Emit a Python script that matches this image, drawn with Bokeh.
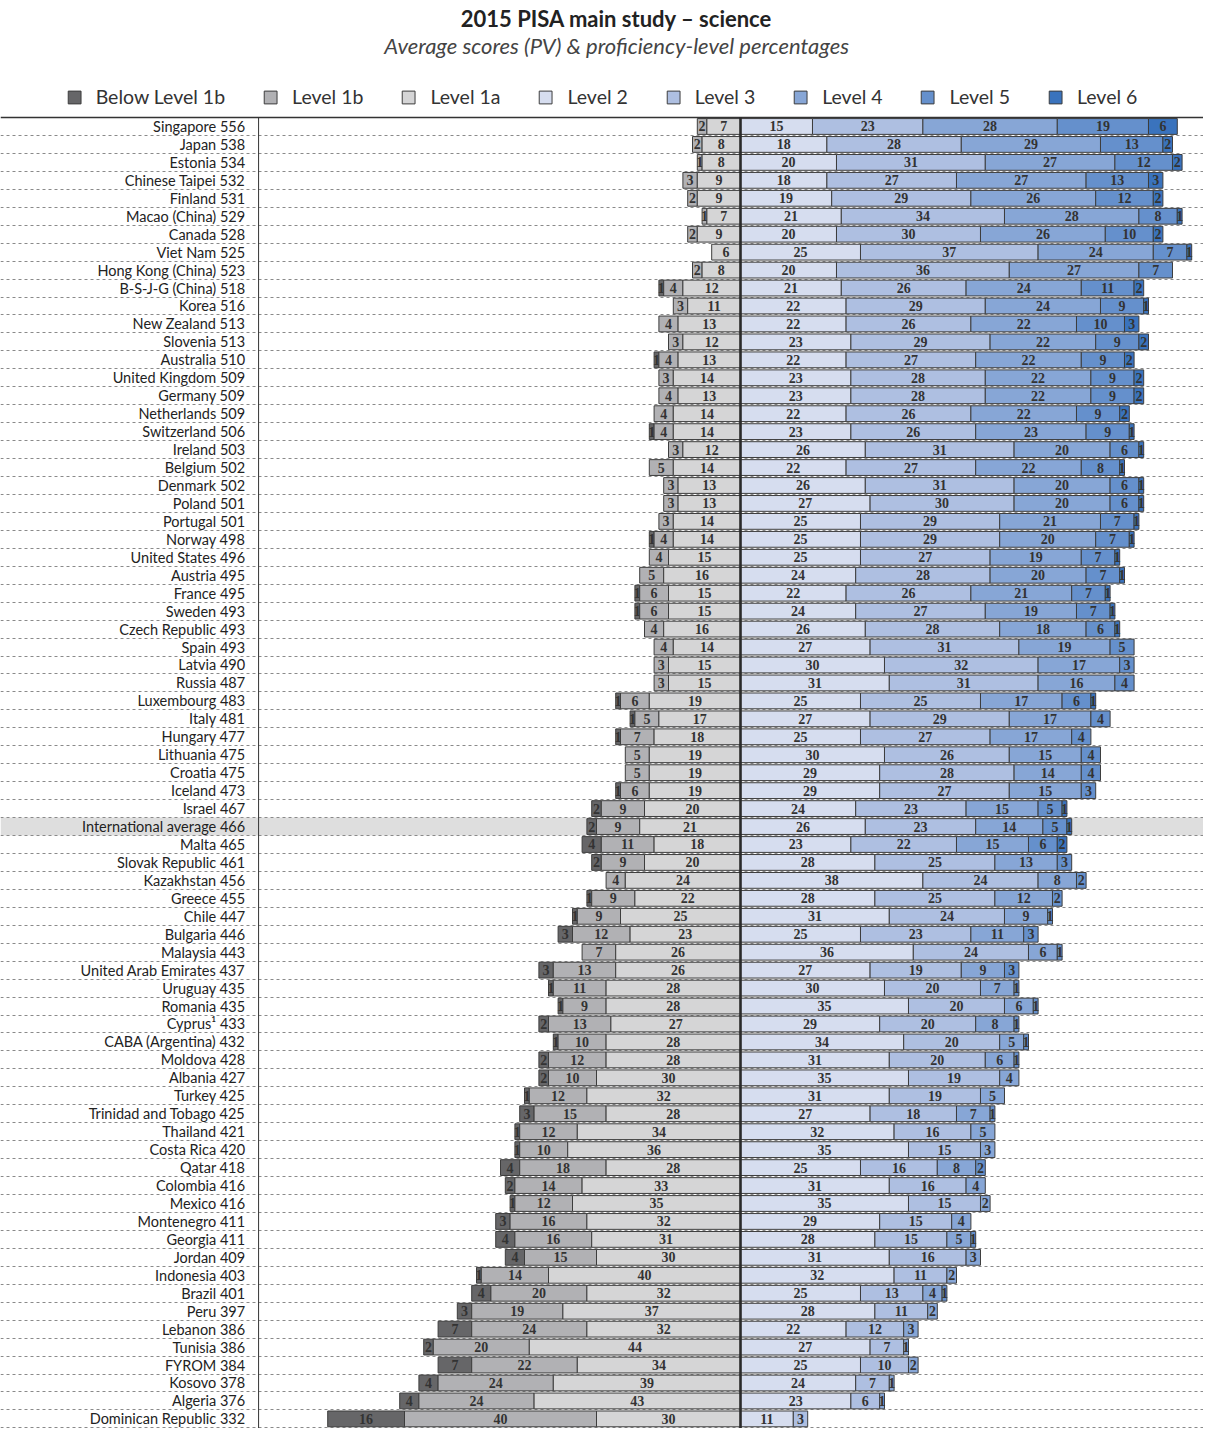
from bokeh.plotting import figure
from bokeh.models import ColumnDataSource, Range1d, BoxAnnotation, Legend, LegendItem, Label
from bokeh.core.properties import value
from bokeh.embed import file_html
from bokeh.resources import INLINE

countries = ["Singapore", "Japan", "Estonia", "Chinese Taipei", "Finland", "Macao (China)", "Canada",
             "Viet Nam", "Hong Kong (China)", "B-S-J-G (China)", "Korea", "New Zealand", "Slovenia",
             "Australia", "United Kingdom", "Germany", "Netherlands", "Switzerland", "Ireland", "Belgium",
             "Denmark", "Poland", "Portugal", "Norway", "United States", "Austria", "France", "Sweden",
             "Czech Republic", "Spain", "Latvia", "Russia", "Luxembourg", "Italy", "Hungary", "Lithuania",
             "Croatia", "Iceland", "Israel", "International average", "Malta", "Slovak Republic",
             "Kazakhstan", "Greece", "Chile", "Bulgaria", "Malaysia", "United Arab Emirates", "Uruguay",
             "Romania", "Cyprus\u00b9", "CABA (Argentina)", "Moldova", "Albania", "Turkey",
             "Trinidad and Tobago", "Thailand", "Costa Rica", "Qatar", "Colombia", "Mexico", "Montenegro",
             "Georgia", "Jordan", "Indonesia", "Brazil", "Peru", "Lebanon", "Tunisia", "FYROM", "Kosovo",
             "Algeria", "Dominican Republic"]
scores = [556, 538, 534, 532, 531, 529, 528, 525, 523, 518, 516, 513, 513, 510, 509, 509, 509, 506, 503,
          502, 502, 501, 501, 498, 496, 495, 495, 493, 493, 493, 490, 487, 483, 481, 477, 475, 475, 473,
          467, 466, 465, 461, 456, 455, 447, 446, 443, 437, 435, 435, 433, 432, 428, 427, 425, 425, 421,
          420, 418, 416, 416, 411, 411, 409, 403, 401, 397, 386, 386, 384, 378, 376, 332]
below_1b = [0, 0, 0, 0, 0, 0, 0, 0, 0, 1, 0, 0, 0, 1, 0, 0, 0, 1, 0, 0, 0, 0, 0, 1, 0, 0, 1, 1, 0, 0,
            0, 0, 1, 1, 1, 0, 0, 1, 2, 2, 4, 2, 0, 1, 1, 3, 0, 3, 1, 1, 2, 1, 2, 2, 1, 3, 1, 1, 4, 2,
            1, 3, 4, 4, 1, 4, 3, 7, 2, 7, 4, 4, 16]
level_1b = [2, 2, 1, 3, 2, 1, 2, 0, 2, 4, 3, 4, 3, 4, 3, 4, 4, 4, 3, 5, 3, 3, 3, 4, 4, 5, 6, 6, 4, 4,
            3, 3, 6, 5, 7, 5, 5, 6, 9, 9, 11, 9, 4, 9, 9, 12, 7, 13, 11, 9, 13, 10, 12, 10, 12, 15, 12,
            10, 18, 14, 12, 16, 16, 15, 14, 20, 19, 24, 20, 22, 24, 24, 40]
level_1a = [7, 8, 8, 9, 9, 7, 9, 6, 8, 12, 11, 13, 12, 13, 14, 13, 14, 14, 12, 14, 13, 13, 14, 14, 15,
            16, 15, 15, 16, 14, 15, 15, 19, 17, 18, 19, 19, 19, 20, 21, 18, 20, 24, 22, 25, 23, 26, 26,
            28, 28, 27, 28, 28, 30, 32, 28, 34, 36, 28, 33, 35, 32, 31, 30, 40, 32, 37, 32, 44, 34, 39,
            43, 30]
level_2 = [15, 18, 20, 18, 19, 21, 20, 25, 20, 21, 22, 22, 23, 22, 23, 23, 22, 23, 26, 22, 26, 27, 25,
           25, 25, 24, 22, 24, 26, 27, 30, 31, 25, 27, 25, 30, 29, 29, 24, 26, 23, 28, 38, 28, 31, 25,
           36, 27, 30, 35, 29, 34, 31, 35, 31, 27, 32, 35, 25, 31, 35, 29, 28, 31, 32, 25, 28, 22, 27,
           25, 24, 23, 11]
level_3 = [23, 28, 31, 27, 29, 34, 30, 37, 36, 26, 29, 26, 29, 27, 28, 28, 26, 26, 31, 27, 31, 30, 29,
           29, 27, 28, 26, 27, 28, 31, 32, 31, 25, 29, 27, 26, 28, 27, 23, 23, 22, 25, 24, 25, 24, 23,
           24, 19, 20, 20, 20, 20, 20, 19, 19, 18, 16, 15, 16, 16, 15, 15, 15, 16, 11, 13, 11, 12, 7,
           10, 7, 6, 3]
level_4 = [28, 29, 27, 27, 26, 28, 26, 24, 27, 24, 24, 22, 22, 22, 22, 22, 22, 23, 20, 22, 20, 20, 21,
           20, 19, 20, 21, 19, 18, 19, 17, 16, 17, 17, 17, 15, 14, 15, 15, 14, 15, 13, 8, 12, 9, 11, 6,
           9, 7, 6, 8, 5, 6, 4, 5, 7, 5, 3, 8, 4, 2, 4, 5, 3, 2, 4, 2, 3, 1, 2, 1, 1, 0]
level_5 = [19, 13, 12, 13, 12, 8, 10, 7, 7, 11, 9, 10, 9, 9, 9, 9, 9, 9, 6, 8, 6, 6, 7, 7, 7, 7, 7, 7,
           6, 5, 3, 4, 6, 4, 4, 4, 4, 3, 5, 5, 6, 3, 2, 2, 1, 3, 1, 3, 1, 1, 1, 1, 1, 0, 0, 1, 0, 0, 2,
           0, 0, 0, 1, 0, 0, 1, 0, 0, 0, 0, 0, 0, 0]
level_6 = [6, 2, 2, 3, 2, 1, 2, 1, 0, 2, 1, 3, 2, 2, 2, 2, 2, 1, 1, 1, 1, 1, 1, 1, 1, 1, 1, 1, 1, 0,
           0, 0, 1, 0, 0, 0, 0, 0, 1, 1, 2, 0, 0, 0, 0, 0, 0, 0, 0, 0, 0, 0, 0, 0, 0, 0, 0, 0, 0, 0,
           0, 0, 0, 0, 0, 0, 0, 0, 0, 0, 0, 0, 0]

level_names = ["Below Level 1b", "Level 1b", "Level 1a", "Level 2", "Level 3", "Level 4", "Level 5", "Level 6"]
level_colors = ["#666668", "#b1b1b4", "#d5d5d6", "#d6ddef", "#aebfe1", "#87a6d6", "#6590cc", "#3a73bd"]

N = len(countries)
rows = list(range(N))
highlight_row = countries.index("International average")

Y_BOTTOM, Y_TOP = 72.535, -7.019
p = figure(width=1203, height=1428, output_backend="svg", toolbar_location=None,
           x_range=Range1d(-154.17, 96.46), y_range=Range1d(Y_BOTTOM, Y_TOP),
           min_border=0, x_axis_type=None, y_axis_type=None)
p.grid.visible = False
p.outline_line_color = None
p.background_fill_color = "white"

# highlighted band
p.add_layout(BoxAnnotation(top=highlight_row - 0.5, bottom=highlight_row + 0.5,
                           fill_color="#dedede", fill_alpha=1, line_color=None, level="underlay"))

# row separators
p.hspan(y=[r + 0.5 for r in rows], line_color="#8a8a8a", line_width=1, line_dash="3 3")

# stacked segments
left_levels = [below_1b, level_1b, level_1a]
right_levels = [level_2, level_3, level_4, level_5, level_6]

segments = {}
for k in range(3):
    lefts, rights = [], []
    for i in rows:
        inner = sum(left_levels[j][i] for j in range(k + 1, 3))
        rights.append(-inner)
        lefts.append(-(inner + left_levels[k][i]))
    segments[k] = (left_levels[k], lefts, rights)
for k in range(5):
    lefts, rights = [], []
    for i in rows:
        inner = sum(right_levels[j][i] for j in range(k))
        lefts.append(inner)
        rights.append(inner + right_levels[k][i])
    segments[k + 3] = (right_levels[k], lefts, rights)

renderers = []
label_font = value("Liberation Serif")
for k in range(8):
    vals, lefts, rights = segments[k]
    keep = [i for i in rows if vals[i] > 0]
    src = ColumnDataSource(dict(
        y=[i for i in keep],
        left=[lefts[i] for i in keep],
        right=[rights[i] for i in keep],
        mid=[(lefts[i] + rights[i]) / 2 for i in keep],
        lab=[str(vals[i]) for i in keep],
    ))
    r = p.hbar(y="y", left="left", right="right", height=0.88, source=src,
               fill_color=level_colors[k], line_color="#3d3d3d", line_width=1)
    renderers.append(r)
    p.text(x="mid", y="y", text="lab", source=src, text_align="center", text_baseline="middle",
           text_font=label_font, text_font_style="bold", text_font_size="14px", text_color="#333333")

# country labels
lab_src = ColumnDataSource(dict(
    y=rows,
    x=[-103.2] * N,
    t=[f"{c} {s}" for c, s in zip(countries, scores)],
))
p.text(x="x", y="y", text="t", source=lab_src, text_align="right", text_baseline="middle",
       text_font=value("Lato"), text_font_size="14.5px", text_color="#222222")

# structural lines
p.hspan(y=[-0.5], line_color="#333333", line_width=1.3)
p.segment(x0=[-100.4], y0=[-0.5], x1=[-100.4], y1=[Y_BOTTOM], line_color="#333333", line_width=1)
p.segment(x0=[0], y0=[-0.5], x1=[0], y1=[Y_BOTTOM], line_color="#2a2a2a", line_width=2.6)

legend = Legend(items=[LegendItem(label=n, renderers=[r]) for n, r in zip(level_names, renderers)],
                orientation="horizontal", location="top_center", spacing=37, label_standoff=14,
                glyph_width=16, glyph_height=16, border_line_color=None, background_fill_alpha=0,
                label_text_font="Lato", label_text_font_size="19.5px", label_text_color="#333333",
                padding=4, margin=85)
p.add_layout(legend)

p.add_layout(Label(x=-25.8, y=-6.017, text="2015 PISA main study \u2013 science", text_align="center",
                   text_baseline="middle", text_font="Lato", text_font_style="bold",
                   text_font_size="22px", text_color="#222222"))
p.add_layout(Label(x=-25.8, y=-4.513, text="Average scores (PV) & proficiency-level percentages",
                   text_align="center", text_baseline="middle", text_font="Lato",
                   text_font_style="italic", text_font_size="22px", text_color="#444444"))

open("out.html", "w").write(file_html(p, INLINE))
